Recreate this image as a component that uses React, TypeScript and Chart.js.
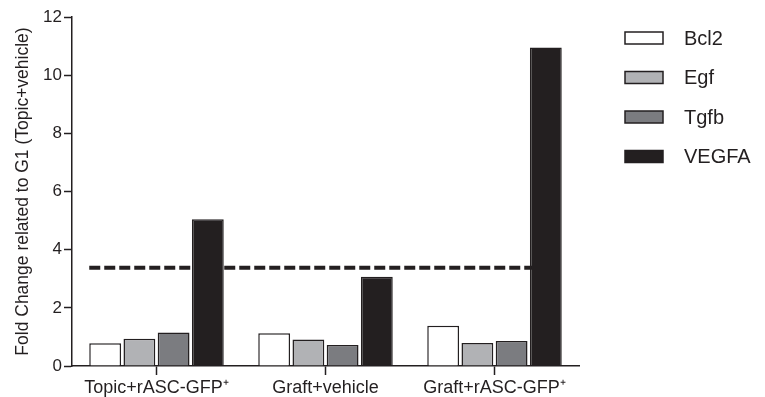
import React, { useEffect, useRef } from "react";
import { Chart, registerables } from "chart.js";

Chart.register(...registerables);

const categories = ["Topic+rASC-GFP\u207A", "Graft+vehicle", "Graft+rASC-GFP\u207A"];
const seriesNames = ["Bcl2", "Egf", "Tgfb", "VEGFA"];
const bcl2 = [0.78, 1.13, 1.38];
const egf = [0.94, 0.91, 0.79];
const tgfb = [1.15, 0.72, 0.86];
const vegfa = [5.05, 3.07, 10.95];
const seriesColors = ["#ffffff", "#b1b2b5", "#7b7c80", "#231f20"];
const thresholdValue = [3.38];
const yTicks = [0, 2, 4, 6, 8, 10, 12];

const FONT = "'Liberation Sans', Arial, Helvetica, sans-serif";
const INK = "#231f20";

const thresholdPlugin = {
  id: "thresholdLine",
  beforeDatasetsDraw(chart: any) {
    const y = chart.scales.y.getPixelForValue(thresholdValue[0]);
    const first = chart.getDatasetMeta(0).data[0];
    const lastMeta = chart.getDatasetMeta(chart.data.datasets.length - 1);
    const last = lastMeta.data[lastMeta.data.length - 1];
    const x0 = first.x - first.width / 2;
    const x1 = last.x;
    const ctx = chart.ctx;
    ctx.save();
    ctx.strokeStyle = INK;
    ctx.lineWidth = 4;
    ctx.setLineDash([11, 4]);
    ctx.beginPath();
    ctx.moveTo(x0, y);
    ctx.lineTo(x1, y);
    ctx.stroke();
    ctx.restore();
  },
};

const legendPlugin = {
  id: "customLegend",
  afterDraw(chart: any) {
    const ctx = chart.ctx;
    ctx.save();
    const ds = chart.data.datasets;
    const boxX = 625;
    const boxW = 38;
    const boxH = 12;
    const startY = 38;
    const step = 39.5;
    ctx.font = `20px ${FONT}`;
    ctx.textBaseline = "middle";
    ctx.textAlign = "left";
    ds.forEach((d: any, i: number) => {
      const cy = startY + i * step;
      ctx.fillStyle = d.backgroundColor;
      ctx.fillRect(boxX, cy - boxH / 2, boxW, boxH);
      ctx.strokeStyle = INK;
      ctx.lineWidth = 1.5;
      ctx.strokeRect(boxX, cy - boxH / 2, boxW, boxH);
      ctx.fillStyle = INK;
      ctx.fillText(d.label, 684, cy + 1);
    });
    ctx.restore();
  },
};

export default function App() {
  const ref = useRef<HTMLCanvasElement | null>(null);
  useEffect(() => {
    document.body.style.margin = "0";
    if (!ref.current) return;
    const values = [bcl2, egf, tgfb, vegfa];
    const chart = new Chart(ref.current, {
      type: "bar",
      data: {
        labels: categories,
        datasets: seriesNames.map((name, i) => ({
          label: name,
          data: values[i],
          backgroundColor: seriesColors[i],
          borderColor: INK,
          borderWidth: 1.5,
          borderSkipped: "bottom",
          categoryPercentage: 0.81,
          barPercentage: 0.93,
        })),
      },
      options: {
        animation: false,
        responsive: false,
        maintainAspectRatio: false,
        layout: { padding: { top: 17, right: 186, left: 0, bottom: 0 } },
        plugins: {
          legend: { display: false },
          tooltip: { enabled: false },
        },
        scales: {
          x: {
            offset: true,
            grid: {
              display: true,
              offset: false,
              drawOnChartArea: false,
              drawTicks: true,
              tickLength: 9,
              tickWidth: 1.5,
              tickColor: INK,
            },
            border: { display: true, color: INK, width: 1.5 },
            ticks: {
              color: INK,
              font: { family: FONT, size: 18 },
              padding: 2,
              maxRotation: 0,
            },
            afterFit(scale: any) {
              scale.height = 31;
            },
          },
          y: {
            min: 0,
            max: 12,
            afterBuildTicks(scale: any) {
              scale.ticks = yTicks.map((v) => ({ value: v }));
            },
            grid: {
              display: true,
              drawOnChartArea: false,
              drawTicks: true,
              tickLength: 8,
              tickWidth: 1.5,
              tickColor: INK,
            },
            border: { display: true, color: INK, width: 1.5 },
            ticks: {
              color: INK,
              font: { family: FONT, size: 17 },
              padding: 2,
            },
            title: {
              display: true,
              text: "Fold Change related to G1 (Topic+vehicle)",
              color: INK,
              font: { family: FONT, size: 17.5 },
              padding: { top: 13, bottom: 0 },
            },
            afterFit(scale: any) {
              scale.width = 72;
            },
          },
        },
      },
      plugins: [thresholdPlugin, legendPlugin],
    });
    return () => chart.destroy();
  }, []);
  return (
    <div style={{ position: "absolute", left: 0, top: 0, width: 765, height: 397, background: "#fff" }}>
      <canvas ref={ref} width={765} height={397} style={{ display: "block", width: 765, height: 397 }} />
    </div>
  );
}
